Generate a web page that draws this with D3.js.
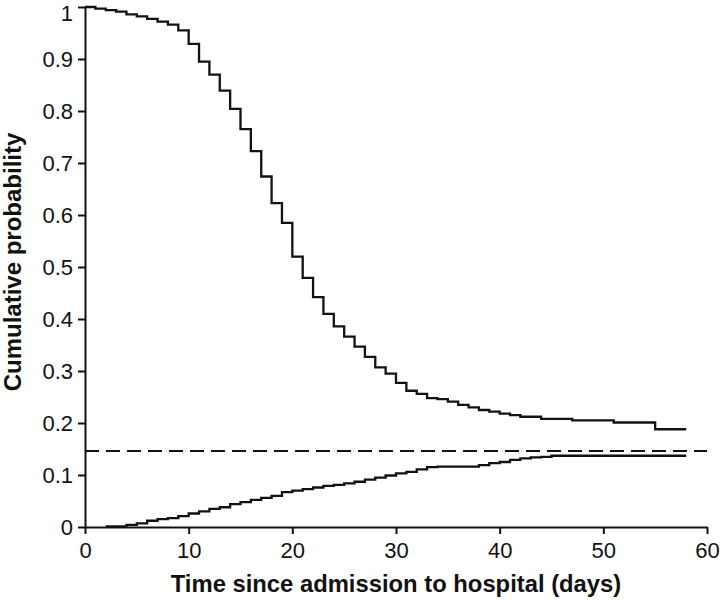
<!DOCTYPE html>
<html>
<head>
<meta charset="utf-8">
<script src="https://cdn.jsdelivr.net/npm/d3@7"></script>
<style>
  body { margin: 0; background: #fff; }
  text { font-family: Arial, "Liberation Sans", Helvetica, sans-serif; }
</style>
</head>
<body>
<div id="chart"></div>
<script>
// data: step curves, one value per day
var topDays = [0, 1, 2, 3, 4, 5, 6, 7, 8, 9, 10, 11, 12, 13, 14, 15, 16, 17, 18, 19,
  20, 21, 22, 23, 24, 25, 26, 27, 28, 29, 30, 31, 32, 33, 34, 35, 36, 37, 38, 39,
  40, 41, 42, 44, 47, 51, 55, 58];
var topValues = [1.0, 0.997, 0.994, 0.991, 0.986, 0.982, 0.977, 0.972, 0.966, 0.955,
  0.929, 0.895, 0.870, 0.839, 0.804, 0.765, 0.723, 0.674, 0.623, 0.585,
  0.520, 0.479, 0.442, 0.410, 0.386, 0.366, 0.347, 0.327, 0.307, 0.295,
  0.277, 0.262, 0.256, 0.248, 0.246, 0.241, 0.235, 0.230, 0.225, 0.222,
  0.218, 0.215, 0.212, 0.208, 0.205, 0.201, 0.188, 0.188];

var bottomDays = [2, 4, 5, 6, 7, 8, 9, 10, 11, 12, 13, 14, 15, 16, 17, 18, 19, 20,
  21, 22, 23, 24, 25, 26, 27, 28, 29, 30, 31, 32, 33, 34, 38, 39, 40, 41, 42, 43,
  44, 45, 58];
var bottomValues = [0.001, 0.004, 0.007, 0.012, 0.015, 0.017, 0.021, 0.026, 0.030,
  0.035, 0.038, 0.044, 0.048, 0.052, 0.056, 0.060, 0.067, 0.070, 0.073, 0.076,
  0.079, 0.081, 0.084, 0.087, 0.091, 0.095, 0.099, 0.103, 0.106, 0.111, 0.115,
  0.116, 0.119, 0.123, 0.125, 0.129, 0.132, 0.134, 0.135, 0.137, 0.137];

var dashedLevel = 0.146;

var xTicks = [0, 10, 20, 30, 40, 50, 60];
var yTicks = [0, 0.1, 0.2, 0.3, 0.4, 0.5, 0.6, 0.7, 0.8, 0.9, 1];

// plot area
var margin = { top: 7, right: 13, bottom: 73, left: 85 },
  width = 720 - margin.left - margin.right,
  height = 600 - margin.top - margin.bottom;

var svg = d3.select("#chart")
  .append("svg")
  .attr("width", 720)
  .attr("height", 600)
  .append("g")
  .attr("transform", "translate(" + margin.left + "," + margin.top + ")");

var x = d3.scaleLinear().domain([0, 60]).range([0, width]);
var y = d3.scaleLinear().domain([0, 1]).range([height, 0]);

// axes
var xAxis = svg.append("g")
  .attr("transform", "translate(0," + height + ")")
  .call(d3.axisBottom(x).tickValues(xTicks).tickSize(7).tickPadding(8).tickSizeOuter(0));
var yAxis = svg.append("g")
  .call(d3.axisLeft(y).tickValues(yTicks).tickFormat(d3.format("")).tickSize(7).tickPadding(5).tickSizeOuter(0));

[xAxis, yAxis].forEach(function (g) {
  g.selectAll("path, line").attr("stroke", "#111").attr("stroke-width", 2);
  g.selectAll("text").attr("fill", "#111").style("font-size", "22px");
});
// keep the top label inside the page
yAxis.selectAll(".tick text").filter(function (d) { return d === 1; }).attr("dy", "0.6em");

// step curves
var line = d3.line()
  .x(function (d) { return x(d[0]); })
  .y(function (d) { return y(d[1]); })
  .curve(d3.curveStepAfter);

svg.append("path")
  .datum(d3.zip(topDays, topValues))
  .attr("fill", "none")
  .attr("stroke", "#111")
  .attr("stroke-width", 2.3)
  .attr("d", line);

svg.append("path")
  .datum(d3.zip(bottomDays, bottomValues))
  .attr("fill", "none")
  .attr("stroke", "#111")
  .attr("stroke-width", 2.3)
  .attr("d", line);

// dashed reference line
svg.append("line")
  .attr("x1", x(0)).attr("x2", x(60))
  .attr("y1", y(dashedLevel)).attr("y2", y(dashedLevel))
  .attr("stroke", "#111")
  .attr("stroke-width", 2)
  .attr("stroke-dasharray", "14,7");

// axis titles
svg.append("text")
  .attr("x", width / 2)
  .attr("y", height + 65)
  .attr("text-anchor", "middle")
  .style("font-size", "23.8px")
  .style("font-weight", "bold")
  .attr("fill", "#111")
  .text("Time since admission to hospital (days)");

svg.append("text")
  .attr("transform", "translate(" + (21 - margin.left) + "," + (262 - margin.top) + ") rotate(-90)")
  .attr("text-anchor", "middle")
  .style("font-size", "24px")
  .style("font-weight", "bold")
  .attr("fill", "#111")
  .text("Cumulative probability");
</script>
</body>
</html>
